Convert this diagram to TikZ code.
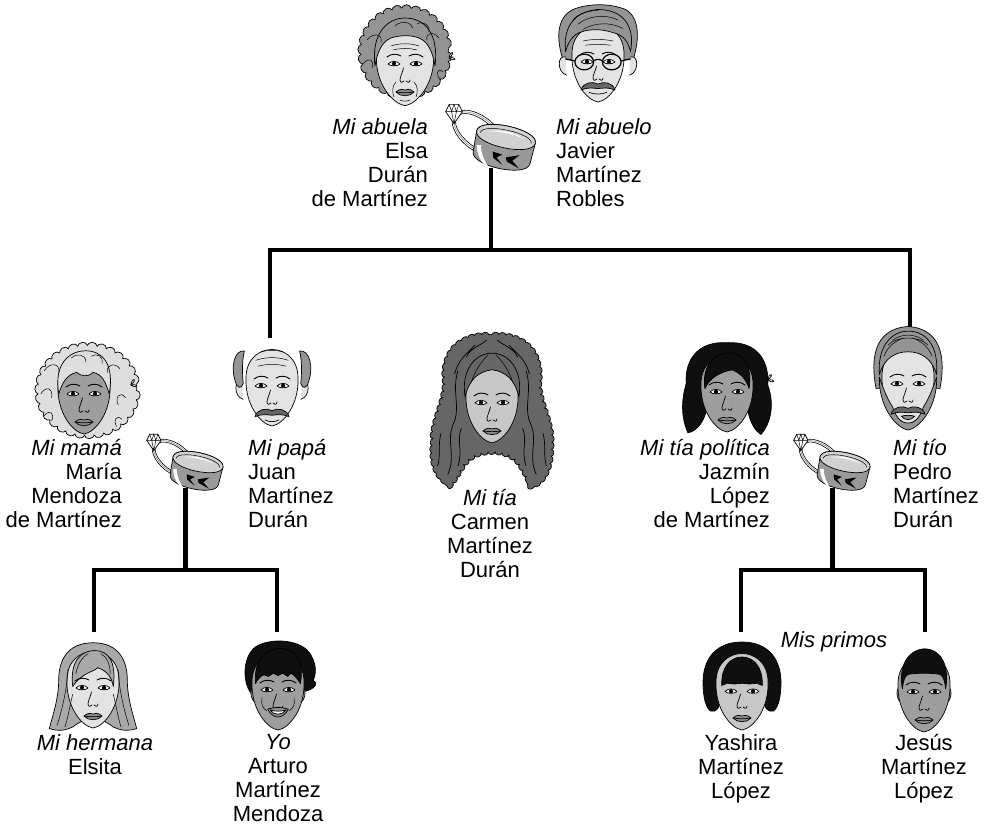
\documentclass[tikz,border=0pt]{standalone}
\usepackage{fontspec}
\setmainfont{Liberation Sans}
\usetikzlibrary{decorations.pathmorphing, backgrounds}

\definecolor{skinA}{gray}{0.89}
\definecolor{skinB}{gray}{0.78}
\definecolor{skinC}{gray}{0.62}
\definecolor{hairL}{gray}{0.87}
\definecolor{hairM}{gray}{0.58}
\definecolor{hairD}{gray}{0.40}
\definecolor{hairK}{gray}{0.06}
\definecolor{lip}{gray}{0.55}
\definecolor{ringM}{gray}{0.60}
\definecolor{ringL}{gray}{0.82}

\tikzset{
  lineage/.style={line width=4.5pt, line join=miter},
  ink/.style={line width=0.7pt, line join=round, line cap=round},
  fine/.style={line width=0.5pt, line cap=round},
  curly/.style={decorate, decoration={bumps, segment length=19pt, amplitude=4pt}},
  wavy/.style={decorate, decoration={bumps, segment length=14pt, amplitude=2.5pt}},
  nametext/.style={font=\fontsize{22}{24}\selectfont, inner sep=0pt},
  pics/eye/.style={code={
    \draw[ink, fill=white] (-6,0) .. controls (-3,-3.5) and (3,-3.5) .. (6,0)
      .. controls (3,2.5) and (-3,2.5) .. cycle;
    \fill (0,-0.3) circle (2.1);
  }},
  pics/eyes/.style={code={\pic at (-11,0) {eye}; \pic at (11,0) {eye};}},
  pics/brows/.style={code={
    \draw[ink, line width=0.9pt] (-18,-7) .. controls (-14,-10.5) and (-8,-10.5) .. (-4,-8);
    \draw[ink, line width=0.9pt] (18,-7) .. controls (14,-10.5) and (8,-10.5) .. (4,-8);
  }},
  pics/nose/.style={code={
    \draw[ink] (-1.5,4) .. controls (-3,10) and (-5,13) .. (-5,16) .. controls (-5,19) and (-2,19) .. (-1,17);
    \draw[ink] (5,16) .. controls (5,19) and (2,19) .. (1,17);
  }},
  pics/lips/.style={code={
    \draw[ink, fill=lip] (-9,28) .. controls (-5,24.5) and (-2,25) .. (0,26) .. controls (2,25) and (5,24.5) .. (9,28)
      .. controls (5,33) and (-5,33) .. cycle;
    \draw[ink] (-9,28) .. controls (-3,29) and (3,29) .. (9,28);
  }},
  pics/stache/.style={code={
    \draw[ink, fill=hairD] (-17,5) .. controls (-15,-3) and (-5,-4) .. (0,-1) .. controls (5,-4) and (15,-3) .. (17,5)
      .. controls (11,2) and (5,3) .. (0,3.5) .. controls (-5,3) and (-11,2) .. cycle;
  }},
  pics/ear/.style={code={
    \draw[ink, fill=#1] (0,-7) .. controls (-8,-10) and (-9,8) .. (1,11);
  }},
  pics/faceshape/.style={code={
    \draw[ink, fill=#1] (-26,-8) .. controls (-27,18) and (-12,38) .. (0,40)
      .. controls (12,38) and (27,18) .. (26,-8) .. controls (26,-46) and (-26,-46) .. cycle;
  }},
  pics/ribbon/.style={code={
    \draw[ink, fill=white] (0,0) .. controls (1,-8) and (8,-7) .. cycle;
    \draw[ink, fill=white] (0,0) .. controls (8,-2) and (8,5) .. cycle;
  }},
  pics/rings/.style={code={
    % engagement ring with its stone, partly behind the wedding band
    \draw[ink, line width=0.6pt, fill=white, even odd rule]
      (-28,-4) ellipse [x radius=30, y radius=17, rotate=-38]
      (-28,-4) ellipse [x radius=26.5, y radius=13.5, rotate=-38];
    \draw[fine, gray] (-28,-4) ellipse [x radius=28.2, y radius=15.2, rotate=-38];
    \begin{scope}[shift={(-52,-23)}, scale=1.2]
      \draw[ink, fill=white] (-7,-2) -- (-4,-8) -- (4,-8) -- (7,-2) -- (0,8) -- cycle;
      \draw[fine] (-7,-2) -- (7,-2) (-4,-8) -- (-2,-2) -- (0,8) -- (2,-2) -- (4,-8)
        (-2,-2) -- (0,-8) -- (2,-2);
    \end{scope}
    % wedding band, slightly tilted
    \begin{scope}[rotate=-12]
      \draw[ink, fill=ringM] (-30,0) -- (-29,21) .. controls (-29,36) and (29,36) .. (29,21)
        -- (30,0) .. controls (30,-14.7) and (-30,-14.7) .. cycle;
      \draw[ink, fill=ringL] (-30,0) .. controls (-30,-14.7) and (30,-14.7) .. (30,0)
        .. controls (30,14.7) and (-30,14.7) .. cycle;
      \draw[fine] (-26,1) .. controls (-26,-9.5) and (26,-9.5) .. (26,1);
      \fill[white] (-18,-2) .. controls (-8,-6.5) and (8,-6.5) .. (18,-2)
        .. controls (8,-4.5) and (-8,-4.5) .. cycle;
      \fill[white] (-27,14) .. controls (-25,22) and (-21,28) .. (-15,32) -- (-12,32)
        .. controls (-17,27) and (-21,21) .. (-23,13) -- cycle;
      \fill[black] (4,20) -- (17,15) -- (11,22) -- (19,28) -- (6,24) -- cycle;
      \fill[black] (-10,17) -- (0,18) -- (-5,22) -- (2,28) -- (-8,23) -- cycle;
    \end{scope}
    \coordinate (-base) at (-15,31);
  }}
}

\begin{document}
\begin{tikzpicture}[x=1pt, y=-1pt]
\useasboundingbox (0,0) rectangle (985,826);

% ---------- rings of the three couples ----------
\pic (rA) at (506,137) {rings};
\pic[scale=0.85] (rB) at (198,462) {rings};
\pic[scale=0.85] (rC) at (845,462) {rings};

% ---------- connectors of the family tree ----------
\coordinate (jTop) at (rA-base |- 0,250);
\coordinate (papaTop) at (270,338);
\coordinate (pedroTop) at (910,338);
\coordinate (jL) at (rB-base |- 0,570);
\coordinate (elsitaTop) at (94,632);
\coordinate (yoTop) at (277,632);
\coordinate (jR) at (rC-base |- 0,570);
\coordinate (yashiraTop) at (741,632);
\coordinate (jesusTop) at (925,632);

\begin{scope}[on background layer]
  \draw[lineage] (rA-base) -- (jTop);
  \draw[lineage] (papaTop) |- (jTop) -| (pedroTop);
  \draw[lineage] (rB-base) -- (jL);
  \draw[lineage] (elsitaTop) |- (jL) -| (yoTop);
  \draw[lineage] (rC-base) -- (jR);
  \draw[lineage] (yashiraTop) |- (jR) -| (jesusTop);
\end{scope}

% ---------- abuela ----------
\begin{scope}[shift={(405,64)}]
  \path[ink, draw, fill=hairM, curly] (0,-12) ellipse [x radius=43, y radius=43];
  \pic at (44,-6) {ribbon};
  \pic[xscale=1.1, yscale=1.04] {faceshape=skinA};
  \path[ink, draw, fill=hairM] (-30,2) .. controls (-34,-30) and (-18,-46) .. (0,-46)
    .. controls (20,-46) and (34,-30) .. (30,2) .. controls (28,-10) and (24,-22) .. (14,-26)
    .. controls (4,-30) and (-8,-28) .. (-14,-26) .. controls (-24,-22) and (-28,-10) .. cycle;
  \draw[fine] (-38,-24) .. controls (-32,-32) and (-22,-30) .. (-24,-22)
    (-42,0) .. controls (-36,-8) and (-30,-4) .. (-33,4)
    (34,-26) .. controls (28,-34) and (20,-30) .. (22,-24)
    (38,8) .. controls (32,2) and (30,12) .. (36,16)
    (-10,-38) .. controls (-4,-44) and (6,-42) .. (8,-36)
    (12,-40) .. controls (18,-44) and (26,-38) .. (24,-32);
  \draw[fine] (-14,-18) .. controls (-5,-21) and (5,-21) .. (14,-18)
    (-12,-14) .. controls (-4,-16) and (4,-16) .. (12,-14)
    (-9,18) .. controls (-13,22) and (-13,28) .. (-11,33)
    (9,18) .. controls (13,22) and (13,28) .. (11,33)
    (-5,36) .. controls (-2,37.5) and (2,37.5) .. (5,36);
  \pic {eyes}; \pic {brows}; \pic {nose}; \pic {lips};
\end{scope}

% ---------- abuelo ----------
\begin{scope}[shift={(598,62)}, xscale=1.25, yscale=1.05]
  \draw[ink, fill=hairM] (-28,-2) .. controls (-33,-20) and (-34,-42) .. (-20,-50)
    .. controls (-8,-56) and (10,-56) .. (22,-50) .. controls (34,-42) and (33,-20) .. (28,-2) -- cycle;
  \pic at (-26,2) {ear=skinA};
  \pic[xscale=-1] at (26,2) {ear=skinA};
  \pic {faceshape=skinA};
  \draw[ink, fill=hairM] (-26,-10) .. controls (-28,-32) and (-20,-48) .. (0,-50)
    .. controls (20,-50) and (30,-34) .. (26,-10) .. controls (24,-20) and (20,-26) .. (12,-28)
    .. controls (2,-32) and (-10,-32) .. (-18,-26) .. controls (-22,-22) and (-24,-18) .. cycle;
  \draw[fine] (-16,-36) .. controls (-8,-44) and (6,-46) .. (16,-40)
    (-12,-31) .. controls (-2,-38) and (10,-38) .. (20,-32)
    (-20,-40) .. controls (-16,-46) and (-8,-49) .. (0,-49);
  \draw[fine] (-12,-20) .. controls (-4,-22) and (4,-22) .. (12,-20)
    (-10,-16) .. controls (-3,-17) and (3,-17) .. (10,-16);
  \pic {eyes}; \pic {brows}; \pic {nose};
  \draw[ink, line width=1.2pt] (-11,0) circle (7.5) (11,0) circle (7.5);
  \draw[ink, line width=1.1pt] (-3.5,-1) .. controls (-1,-3) and (1,-3) .. (3.5,-1)
    (-18.5,-1) -- (-26,-3) (18.5,-1) -- (26,-3);
  \pic at (0,22) {stache};
  \draw[ink] (-7,29) .. controls (-3,31) and (3,31) .. (7,29);
\end{scope}

% ---------- mamá ----------
\begin{scope}[shift={(84,394)}, scale=0.9]
  \path[ink, draw, fill=hairL, curly] (4,-4) ellipse [x radius=54, y radius=49];
  \pic at (52,-10) {ribbon};
  \pic {faceshape=skinC};
  \path[ink, draw, fill=hairL] (-28,0) .. controls (-34,-34) and (-16,-48) .. (2,-48)
    .. controls (20,-48) and (34,-34) .. (28,0) .. controls (24,-14) and (20,-22) .. (10,-24)
    .. controls (4,-18) and (-4,-20) .. (-8,-24) .. controls (-18,-22) and (-24,-14) .. cycle;
  \draw[fine] (-44,-26) .. controls (-38,-36) and (-26,-34) .. (-28,-24)
    (-48,0) .. controls (-42,-10) and (-34,-6) .. (-36,4)
    (-44,24) .. controls (-38,16) and (-32,22) .. (-36,30)
    (40,-28) .. controls (34,-36) and (24,-32) .. (26,-24)
    (46,4) .. controls (40,-4) and (34,4) .. (38,12)
    (42,28) .. controls (36,22) and (32,30) .. (36,36)
    (-14,-40) .. controls (-8,-46) and (2,-44) .. (2,-36)
    (8,-42) .. controls (14,-46) and (22,-42) .. (20,-34);
  \pic {eyes}; \pic {brows}; \pic {nose}; \pic {lips};
\end{scope}

% ---------- papá ----------
\begin{scope}[shift={(272,386)}, xscale=1.15, yscale=1.17]
  \pic at (-26,2) {ear=skinA};
  \pic[xscale=-1] at (26,2) {ear=skinA};
  \pic {faceshape=skinA};
  \draw[ink, fill=hairM] (-24,-30) .. controls (-33,-31) and (-36,-16) .. (-32,-4)
    .. controls (-30,2) and (-27,3) .. (-25,-2) .. controls (-26,-12) and (-26,-22) .. cycle;
  \draw[ink, fill=hairM] (24,-30) .. controls (33,-31) and (36,-16) .. (32,-4)
    .. controls (30,2) and (27,3) .. (25,-2) .. controls (26,-12) and (26,-22) .. cycle;
  \draw[fine] (-14,-22) .. controls (-5,-25) and (5,-25) .. (14,-22)
    (-12,-17) .. controls (-4,-19) and (4,-19) .. (12,-17)
    (-10,-29) .. controls (-3,-31) and (3,-31) .. (10,-29);
  \pic {eyes}; \pic {brows}; \pic {nose};
  \pic at (0,22) {stache};
  \draw[ink] (-6,29) .. controls (-2,31) and (2,31) .. (6,29);
\end{scope}

% ---------- tía Carmen ----------
\begin{scope}[shift={(492,408)}, scale=0.85]
  \path[ink, draw, fill=hairD, wavy] (0,-86) .. controls (40,-88) and (58,-64) .. (56,-34)
    .. controls (54,-8) and (72,14) .. (70,44) .. controls (70,70) and (62,88) .. (46,92)
    .. controls (40,80) and (34,66) .. (26,60) .. controls (18,54) and (8,52) .. (0,52)
    .. controls (-8,52) and (-18,54) .. (-26,60) .. controls (-34,66) and (-40,80) .. (-48,90)
    .. controls (-62,86) and (-72,70) .. (-70,44) .. controls (-72,14) and (-54,-8) .. (-56,-34)
    .. controls (-58,-64) and (-40,-88) .. (0,-86) -- cycle;
  \draw[ink] (-40,-44) .. controls (-48,-20) and (-36,0) .. (-46,20)
      .. controls (-54,40) and (-42,56) .. (-52,78)
    (-36,24) .. controls (-42,38) and (-34,50) .. (-40,68)
    (40,-44) .. controls (48,-20) and (36,0) .. (46,20)
      .. controls (54,40) and (42,56) .. (52,78)
    (36,24) .. controls (42,38) and (34,50) .. (40,68)
    (-20,-74) .. controls (-30,-64) and (-40,-56) .. (-44,-40)
    (20,-74) .. controls (30,-64) and (40,-56) .. (44,-40)
    (60,30) .. controls (64,44) and (60,56) .. (64,68)
    (-60,30) .. controls (-64,44) and (-60,56) .. (-64,68)
    (-6,-80) .. controls (-16,-72) and (-26,-70) .. (-30,-60)
    (6,-80) .. controls (16,-72) and (26,-70) .. (30,-60);
  \begin{scope}[shift={(0,-6)}, scale=1.22]
    \pic {faceshape=skinB};
    \path[ink, draw, fill=hairD] (-26,-6) .. controls (-30,-32) and (-16,-48) .. (0,-48)
      .. controls (16,-48) and (30,-32) .. (26,-6) .. controls (22,-22) and (14,-30) .. (0,-32)
      .. controls (-14,-30) and (-22,-22) .. cycle;
    \draw[fine] (-4,-46) .. controls (-10,-40) and (-16,-32) .. (-20,-20)
      (4,-46) .. controls (10,-40) and (16,-32) .. (20,-20);
    \pic {eyes}; \pic {brows}; \pic {nose}; \pic {lips};
  \end{scope}
\end{scope}

% ---------- tía política Jazmín ----------
\begin{scope}[shift={(727,392)}, scale=0.85]
  \path[ink, draw, fill=hairK] (0,-58) .. controls (36,-60) and (50,-36) .. (48,-8)
    .. controls (56,14) and (52,36) .. (40,50) .. controls (30,44) and (26,30) .. (24,20)
    -- (-24,20) .. controls (-26,32) and (-34,46) .. (-46,48)
    .. controls (-54,30) and (-54,10) .. (-48,-10) .. controls (-50,-38) and (-34,-60) .. (0,-58) -- cycle;
  \pic at (48,-14) {ribbon};
  \pic {faceshape=skinC};
  \path[ink, draw, fill=hairK] (-26,-4) .. controls (-30,-32) and (-14,-46) .. (2,-46)
    .. controls (20,-46) and (30,-30) .. (26,-4) .. controls (22,-16) and (16,-22) .. (6,-26)
    .. controls (-6,-24) and (-20,-18) .. cycle;
  \pic {eyes}; \pic {brows}; \pic {nose}; \pic {lips};
\end{scope}

% ---------- tío Pedro ----------
\begin{scope}[shift={(908,384)}, xscale=1.1, yscale=1.15]
  \draw[ink, fill=hairM] (-29,4) .. controls (-34,-20) and (-32,-48) .. (0,-50)
    .. controls (32,-48) and (34,-20) .. (29,4) -- cycle;
  \pic {faceshape=skinA};
  \draw[ink, fill=hairM] (-26,-8) .. controls (-28,-34) and (-14,-46) .. (0,-46)
    .. controls (16,-46) and (28,-34) .. (26,-8) .. controls (22,-22) and (12,-28) .. (0,-28)
    .. controls (-12,-28) and (-22,-22) .. cycle;
  \draw[fine] (-18,-34) .. controls (-10,-42) and (10,-42) .. (18,-34)
    (-14,-38) .. controls (-6,-44) and (6,-44) .. (14,-38)
    (-22,-24) .. controls (-18,-34) and (-10,-38) .. (-4,-40)
    (22,-24) .. controls (18,-34) and (10,-38) .. (4,-40);
  \draw[ink, fill=hairM] (-26,-6) .. controls (-27,18) and (-12,38) .. (0,40)
    .. controls (12,38) and (27,18) .. (26,-6) .. controls (22,6) and (18,14) .. (14,20)
    .. controls (10,32) and (4,34) .. (0,34) .. controls (-4,34) and (-10,32) .. (-14,20)
    .. controls (-18,14) and (-22,6) .. cycle;
  \pic {eyes}; \pic {brows}; \pic {nose};
  \pic at (0,22) {stache};
  \draw[ink, fill=lip] (-6,28) .. controls (-2,27) and (2,27) .. (6,28) .. controls (3,32) and (-3,32) .. cycle;
\end{scope}

% ---------- Elsita ----------
\begin{scope}[shift={(93,688)}, scale=0.78]
  \path[ink, draw, fill=hairM!80!white] (0,-58) .. controls (34,-58) and (44,-34) .. (44,-10)
    .. controls (44,14) and (52,36) .. (56,52) .. controls (44,56) and (34,54) .. (26,50)
    .. controls (18,44) and (12,40) .. (0,40) .. controls (-12,40) and (-18,44) .. (-26,50)
    .. controls (-34,54) and (-44,56) .. (-56,52) .. controls (-52,36) and (-44,14) .. (-44,-10)
    .. controls (-44,-34) and (-34,-58) .. (0,-58) -- cycle;
  \pic {faceshape=skinA};
  \path[ink, draw, fill=hairM!80!white] (-26,-2) .. controls (-30,-36) and (-14,-48) .. (2,-48)
    .. controls (20,-48) and (30,-34) .. (26,-2) .. controls (24,-14) and (18,-22) .. (6,-26)
    .. controls (0,-20) and (-14,-20) .. cycle;
  \draw[fine] (-32,-24) .. controls (-34,6) and (-40,28) .. (-46,48)
    (-26,8) .. controls (-30,24) and (-32,38) .. (-36,50)
    (32,-24) .. controls (34,6) and (40,28) .. (46,48)
    (26,8) .. controls (30,24) and (32,38) .. (36,50)
    (-6,-44) .. controls (-14,-40) and (-20,-30) .. (-22,-18)
    (10,-44) .. controls (18,-40) and (22,-30) .. (22,-18);
  \pic {eyes}; \pic {brows}; \pic {nose}; \pic {lips};
\end{scope}

% ---------- Arturo ----------
\begin{scope}[shift={(278,690)}, scale=0.8]
  \path[ink, draw, fill=hairK] (-32,6) .. controls (-44,-6) and (-46,-40) .. (-28,-54)
    .. controls (-12,-64) and (18,-64) .. (34,-52) .. controls (46,-42) and (50,-24) .. (44,-12)
    .. controls (52,-8) and (44,0) .. (32,2) -- cycle;
  \pic at (-26,4) {ear=skinC};
  \pic[xscale=-1] at (26,4) {ear=skinC};
  \pic {faceshape=skinC};
  \path[ink, draw, fill=hairK] (-28,-8) .. controls (-31,-38) and (-14,-52) .. (2,-52)
    .. controls (22,-52) and (33,-38) .. (28,-8) .. controls (24,-15) and (20,-19) .. (16,-21)
    -- (12,-17) -- (6,-21) -- (0,-18) -- (-6,-21) -- (-12,-17) -- (-18,-19)
    .. controls (-22,-17) and (-26,-13) .. cycle;
  \pic {eyes}; \pic {brows}; \pic {nose};
  \draw[fine] (-20,10) .. controls (-22,18) and (-18,24) .. (-14,26)
    (20,10) .. controls (22,18) and (18,24) .. (14,26);
  \draw[ink, fill=lip] (-13,24) .. controls (-4,21) and (4,21) .. (13,24)
    .. controls (6,37) and (-6,37) .. cycle;
  \draw[ink, fill=white] (-10,25) .. controls (-3,27) and (3,27) .. (10,25)
    .. controls (5,32) and (-5,32) .. cycle;
\end{scope}

% ---------- Yashira ----------
\begin{scope}[shift={(742,690)}, scale=0.75]
  \path[ink, draw, fill=hairK] (0,-64) .. controls (36,-64) and (52,-40) .. (52,-10)
    .. controls (52,10) and (48,24) .. (42,28) .. controls (34,30) and (30,24) .. (28,12)
    -- (-28,12) .. controls (-30,24) and (-34,30) .. (-42,28)
    .. controls (-48,24) and (-52,10) .. (-52,-10) .. controls (-52,-40) and (-36,-64) .. (0,-64) -- cycle;
  \pic {faceshape=skinB};
  \path[ink, draw, fill=hairK] (-27,-6) .. controls (-28,-30) and (-16,-44) .. (0,-44)
    .. controls (16,-44) and (28,-30) .. (27,-6) -- (20,-9) -- (10,-8) -- (0,-9)
    -- (-10,-8) -- (-20,-9) -- cycle;
  \pic at (0,2) {eyes}; \pic {nose}; \pic {lips};
\end{scope}

% ---------- Jesús ----------
\begin{scope}[shift={(924,692)}, scale=0.8]
  \pic at (-26,2) {ear=skinC};
  \pic[xscale=-1] at (26,2) {ear=skinC};
  \pic {faceshape=skinC};
  \path[ink, draw, fill=hairK] (-27,-4) .. controls (-32,-30) and (-22,-52) .. (0,-54)
    .. controls (22,-54) and (32,-32) .. (27,-4) .. controls (26,-14) and (24,-20) .. (20,-22)
    .. controls (10,-24) and (-10,-24) .. (-20,-22) .. controls (-24,-20) and (-26,-14) .. cycle;
  \pic {eyes}; \pic {brows}; \pic {nose}; \pic {lips};
\end{scope}

% ---------- names ----------
\node[nametext, anchor=north east, align=right] (abuelaTxt) at (428,118)
  {\textit{Mi abuela}\\Elsa\\Durán\\de Martínez};
\node[nametext, anchor=north west, align=left] (abueloTxt) at (556,118)
  {\textit{Mi abuelo}\\Javier\\Martínez\\Robles};
\node[nametext, anchor=north east, align=right] (mamaTxt) at (122,439)
  {\textit{Mi mamá}\\María\\Mendoza\\de Martínez};
\node[nametext, anchor=north west, align=left] (papaTxt) at (248,439)
  {\textit{Mi papá}\\Juan\\Martínez\\Durán};
\node[nametext, anchor=north, align=center] (carmenTxt) at (490,489)
  {\textit{Mi tía}\\Carmen\\Martínez\\Durán};
\node[nametext, anchor=north east, align=right] (jazminTxt) at (770,439)
  {\textit{Mi tía política}\\Jazmín\\López\\de Martínez};
\node[nametext, anchor=north west, align=left] (pedroTxt) at (893,439)
  {\textit{Mi tío}\\Pedro\\Martínez\\Durán};
\node[nametext, anchor=north, align=center] (elsitaTxt) at (95,734)
  {\textit{Mi hermana}\\Elsita};
\node[nametext, anchor=north, align=center] (yoTxt) at (278,734)
  {\textit{Yo}\\Arturo\\Martínez\\Mendoza};
\node[nametext, anchor=north, align=center] (yashiraTxt) at (741,734)
  {Yashira\\Martínez\\López};
\node[nametext, anchor=north, align=center] (jesusTxt) at (924,734)
  {Jesús\\Martínez\\López};
\node[nametext, anchor=base] (primosTxt) at (834,647) {\textit{Mis primos}};

\end{tikzpicture}
\end{document}
